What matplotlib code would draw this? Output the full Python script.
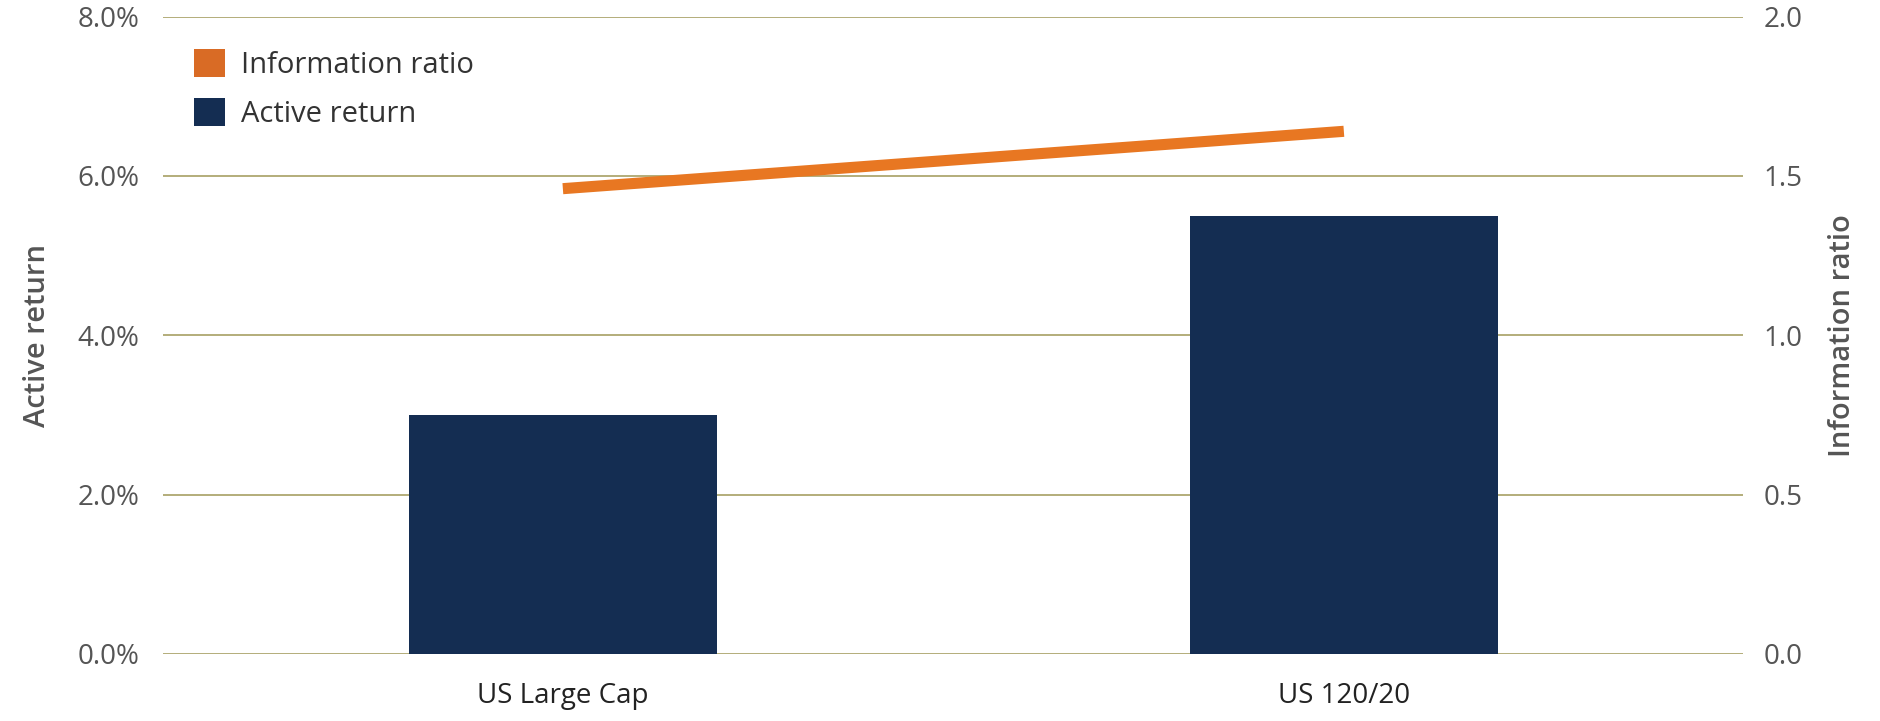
import numpy as np
import matplotlib.pyplot as plt
from matplotlib.patches import Patch
from matplotlib.ticker import FuncFormatter

# data
categories = ['US Large Cap', 'US 120/20']
active_return = [3.0, 5.5]          # percent
information_ratio = [1.46, 1.64]

plt.rcParams['font.family'] = ['Open Sans', 'DejaVu Sans']

navy = '#142d52'
orange = '#e87722'
grid_col = '#b3ad7a'
txt = '#555555'

fig = plt.figure(figsize=(18.8, 7.21), dpi=100)
ax = fig.add_axes([0.0867, 0.093, 0.8404, 0.884])
ax2 = ax.twinx()

x = np.arange(len(categories))
ax.bar(x, active_return, width=0.395, color=navy, zorder=3)
ax.set_ylim(0, 8)
ax.set_yticks([0, 2, 4, 6, 8])
ax.yaxis.set_major_formatter(FuncFormatter(lambda v, p: '%.1f%%' % v))
ax.set_xlim(-0.512, 1.511)
ax.set_xticks(x)
ax.set_xticklabels(categories)
ax.grid(axis='y', color=grid_col, linewidth=1.4, zorder=0)
ax.set_axisbelow(True)

ax2.plot(x, information_ratio, color=orange, linewidth=8, solid_capstyle='butt', zorder=4)
ax2.set_ylim(0, 2)
ax2.set_yticks([0, 0.5, 1.0, 1.5, 2.0])
ax2.yaxis.set_major_formatter(FuncFormatter(lambda v, p: '%.1f' % v))

for a in (ax, ax2):
    for s in a.spines.values():
        s.set_visible(False)
    a.tick_params(length=0, labelsize=20, colors=txt)
ax.tick_params(axis='y', pad=17)
ax.tick_params(axis='x', pad=20, labelcolor='#222222')
ax2.tick_params(axis='y', pad=15)

ax.set_ylabel('Active return', fontsize=21, color=txt, fontweight='semibold', labelpad=18)
ax2.set_ylabel('Information ratio', fontsize=21, color=txt, fontweight='semibold',
               labelpad=18, rotation=90)

handles = [Patch(facecolor='#d96b25', label='Information ratio'),
           Patch(facecolor=navy, label='Active return')]
leg = ax.legend(handles=handles, loc='upper left', bbox_to_anchor=(0.003, 0.99),
                frameon=False, fontsize=21, handlelength=1.07, handleheight=1.1,
                handletextpad=0.55, labelspacing=0.6, labelcolor='#333333')

fig.savefig('out.png', dpi=100)
